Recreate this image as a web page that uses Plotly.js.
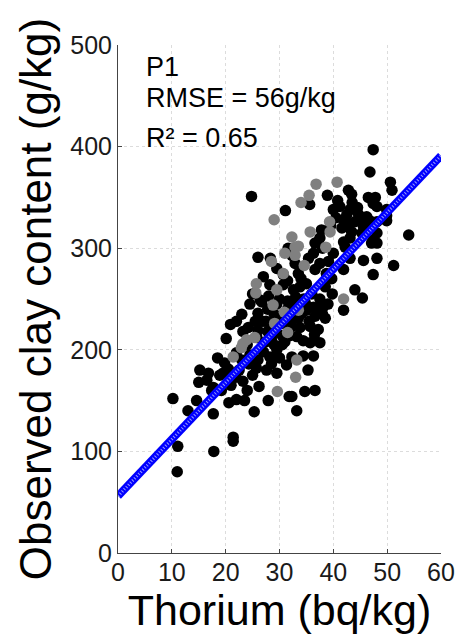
<!DOCTYPE html>
<html>
<head>
<meta charset="utf-8">
<script src="https://cdn.plot.ly/plotly-3.0.1.min.js"></script>
<style>html,body{margin:0;padding:0;background:#fff;}#chart{width:457px;height:635px;}</style>
</head>
<body>
<div id="chart"></div>
<script>
// Observed samples (black)
var blackX = [10.2,11.1,11.0,13.0,14.6,15.0,15.2,16.5,17.7,17.8,17.4,17.7,18.9,19.5,19.8,20.6,21.4,21.4,22.0,21.9,22.5,23.2,20.1,20.9,22.0,23.2,25.3,26.2,27.9,25.7,27.6,29.5,31.3,32.3,31.8,33.2,32.3,34.7,36.6,35.3,34.4,36.3,35.7,37.5,31.9,34.4,33.2,28.8,32.3,35.7,33.5,35.0,36.3,38.1,36.6,38.5,37.2,26.0,27.8,25.8,27.5,27.0,24.5,26.0,28.2,29.5,30.5,24.0,23.0,25.0,28.5,30.0,21.0,19.2,24.0,23.5,18.5,16.8,20.5,24.3,26.4,26.0,26.7,28.2,30.7,32.6,33.2,30.7,30.7,26.0,28.3,32.3,32.9,31.1,24.8,35.6,38.9,42.8,43.4,47.4,46.8,50.6,50.9,46.5,47.8,48.1,47.4,49.9,40.0,41.2,43.1,44.7,41.9,44.0,46.2,41.6,43.4,45.6,48.1,49.9,49.9,48.1,47.1,41.9,43.1,42.2,47.4,48.1,37.5,36.6,31.6,36.3,37.2,37.5,39.1,36.6,39.7,43.1,45.6,48.1,51.2,41.9,47.4,44.0,45.4,41.9,54.0,37.8,39.5,40.5,42.5,44.5,38.0,40.0,34.0,35.0,36.0,37.5,38.5,34.5,33.0,31.5,30.0,29.0,31.5,27.5,29.0,31.0,36.5,38.0,39.0,33.5,29.5,27.0,25.0,24.5,23.0,22.0,28.0,31.5,29.0,30.2,32.0,27.8,29.5,32.8,34.2,35.5,26.8,25.5,24.2,28.5,33.8,30.5,34.8,37.0,39.8,38.7,35.4,33.8,42.8,45.3,46.8,44.8,43.5,40.8];
var blackY = [152,105,80,140,150,168,180,170,137,100,160,163,175,177,187,148,114,110,151,173,180,169,211,225,197,218,139,164,150,182,180,177,185,193,154,140,154,159,160,180,194,194,207,207,214,209,213,216,223,223,231,239,242,242,233,231,220,219,218,212,208,198,195,190,193,200,205,205,190,175,186,192,165,160,160,150,192,177,181,186,249,236,247,264,264,259,242,226,274,291,290,293,285,337,351,343,352,357,353,397,375,365,357,350,350,341,344,338,338,341,338,333,328,326,331,320,316,321,326,327,332,315,305,306,310,301,308,305,310,305,300,295,306,285,287,279,270,290,288,290,283,279,274,259,251,239,313,318,322,330,333,340,300,295,270,265,255,250,262,250,252,248,250,235,240,228,205,208,215,235,245,275,280,272,255,245,235,228,253,268,222,232,230,240,245,247,236,228,228,228,222,210,222,214,246,240,255,275,290,262,324,315,327,327,345,347];
// Observed samples (grey)
var greyX = [21.4,23.2,22.9,23.9,25.4,29.1,31.5,29.6,33.2,33.0,33.5,30.9,28.8,25.6,25.7,29.5,30.7,28.5,31.0,34.6,32.9,32.9,33.5,32.3,35.7,39.4,39.3,38.6,29.0,34.0,35.5,36.8,40.7,41.9];
var greyY = [193,206,202,210,212,226,217,159,190,173,239,237,244,256,265,259,275,287,295,283,301,293,302,311,316,316,326,301,328,345,352,363,365,250];
// Fitted line end points
var fitX = [0, 60];
var fitY = [56, 391];
var xTicks = [0,10,20,30,40,50,60];
var yTicks = [0,100,200,300,400,500];
var stats = ['P1', 'RMSE = 56g/kg', 'R\u00b2 = 0.65'];

var traces = [
  {x: blackX, y: blackY, type: 'scatter', mode: 'markers',
   marker: {color: '#000000', size: 11.5, line: {width: 0}}, hoverinfo: 'skip'},
  {x: greyX, y: greyY, type: 'scatter', mode: 'markers',
   marker: {color: '#808080', size: 11.5, line: {width: 0}}, hoverinfo: 'skip'},
  {x: fitX, y: fitY, type: 'scatter', mode: 'lines',
   line: {color: '#0000ff', width: 8}, hoverinfo: 'skip'},
  {x: fitX, y: fitY, type: 'scatter', mode: 'lines',
   line: {color: '#ffffff', width: 3, dash: '1px,2px'}, opacity: 0.6, hoverinfo: 'skip'}
];

var fontFam = 'Liberation Sans, Arial, sans-serif';
var layout = {
  width: 457, height: 635,
  margin: {l: 118, r: 16, t: 45, b: 82, pad: 0},
  paper_bgcolor: '#ffffff', plot_bgcolor: '#ffffff',
  showlegend: false,
  font: {family: fontFam, color: '#1a1a1a'},
  xaxis: {
    range: [0, 60], tickvals: xTicks, ticktext: xTicks.map(String),
    ticks: 'inside', ticklen: 4, tickcolor: '#444', tickwidth: 1,
    showline: true, linecolor: '#444', linewidth: 1, mirror: false,
    showgrid: true, gridcolor: '#dcdcdc', griddash: 'dot', gridwidth: 1,
    zeroline: false, ticklabelstandoff: -3,
    tickfont: {size: 25, family: fontFam, color: '#1a1a1a'},
    title: {text: 'Thorium (bq/kg)', font: {size: 43, family: fontFam, color: '#000'}, standoff: 4}
  },
  yaxis: {
    range: [0, 500], tickvals: yTicks, ticktext: yTicks.map(String),
    ticks: 'inside', ticklen: 4, tickcolor: '#444', tickwidth: 1,
    showline: true, linecolor: '#444', linewidth: 1, mirror: false,
    showgrid: true, gridcolor: '#dcdcdc', griddash: 'dot', gridwidth: 1,
    zeroline: false, tickfont: {size: 25, family: fontFam, color: '#1a1a1a'},
    title: {text: 'Observed clay content (g/kg)', font: {size: 44, family: fontFam, color: '#000'}, standoff: 4}
  },
  annotations: [
    {xref: 'x', yref: 'y', x: 4.9, y: 478, xanchor: 'left', yanchor: 'middle', showarrow: false,
     text: stats[0], font: {size: 27, family: fontFam, color: '#000'}},
    {xref: 'x', yref: 'y', x: 4.9, y: 448, xanchor: 'left', yanchor: 'middle', showarrow: false,
     text: stats[1], font: {size: 27, family: fontFam, color: '#000'}},
    {xref: 'x', yref: 'y', x: 4.9, y: 408, xanchor: 'left', yanchor: 'middle', showarrow: false,
     text: stats[2], font: {size: 27, family: fontFam, color: '#000'}}
  ]
};

Plotly.newPlot('chart', traces, layout, {staticPlot: true, displayModeBar: false});
</script>
</body>
</html>
